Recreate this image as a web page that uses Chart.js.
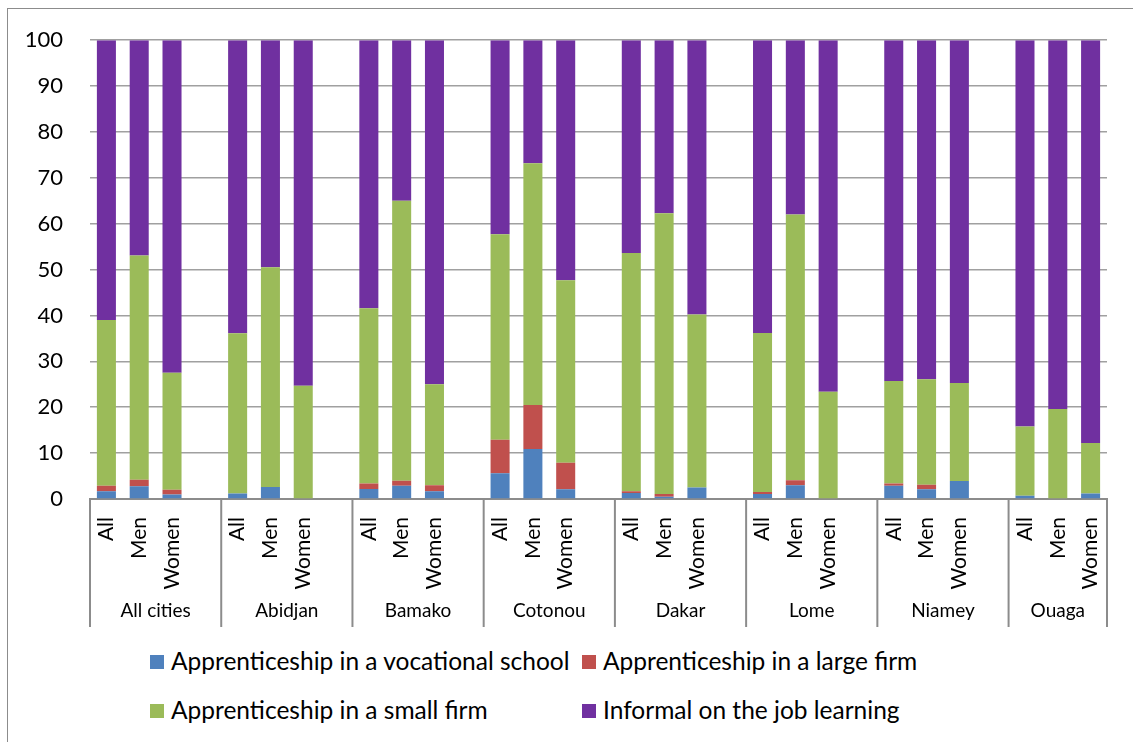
<!DOCTYPE html>
<html>
<head>
<meta charset="utf-8">
<script src="https://cdn.jsdelivr.net/npm/chart.js@4/dist/chart.umd.min.js"></script>
<style>
  html, body { margin: 0; padding: 0; background: #fff; }
  #wrap { position: relative; width: 1133px; height: 742px; overflow: hidden; font-family: Lato, sans-serif; }
  #frame { position: absolute; left: 7px; top: 8px; width: 1140px; height: 750px; border: 1px solid #8c8c8c; box-sizing: border-box; }
  #chart { position: absolute; left: 0; top: 0; }
  .leg { position: absolute; font-size: 24.5px; color: #000; white-space: nowrap; line-height: 1; }
  .leg i { display: inline-block; width: 14px; height: 14px; margin-right: 7px; vertical-align: 1px; }
</style>
</head>
<body>
<div id="wrap">
  <div id="frame"></div>
  <canvas id="chart" width="1133" height="640"></canvas>
  <div id="legend"></div>
</div>
<script>
// ── Datos ──────────────────────────────────────────────────────────────────
const cities = ['All cities', 'Abidjan', 'Bamako', 'Cotonou', 'Dakar', 'Lome', 'Niamey', 'Ouaga'];
const groups = ['All', 'Men', 'Women'];

// 3 barras por ciudad + un hueco entre ciudades (null)
const vocational = [
  1.7, 2.8, 1.0, null,
  1.2, 2.6, 0,   null,
  2.2, 2.9, 1.7, null,
  5.6, 10.9, 2.1, null,
  1.3, 0.5, 2.5, null,
  1.1, 3.0, 0,   null,
  2.9, 2.1, 3.9, null,
  0.7, 0,   1.2
];
const largeFirm = [
  1.2, 1.4, 1.0, null,
  0,   0,   0,   null,
  1.2, 1.1, 1.3, null,
  7.3, 9.6, 5.8, null,
  0.4, 0.6, 0,   null,
  0.4, 1.1, 0,   null,
  0.5, 1.0, 0,   null,
  0,   0,   0
];
const smallFirm = [
  36.1, 48.9, 25.5, null,
  34.9, 47.9, 24.7, null,
  38.2, 61.0, 22.0, null,
  44.8, 52.7, 39.8, null,
  51.9, 61.2, 37.7, null,
  34.7, 57.9, 23.4, null,
  22.3, 23.0, 21.4, null,
  15.1, 19.6, 11.0
];
const informal = [
  61.0, 46.9, 72.5, null,
  63.9, 49.5, 75.3, null,
  58.4, 35.0, 75.0, null,
  42.3, 26.8, 52.3, null,
  46.4, 37.7, 59.8, null,
  63.8, 38.0, 76.6, null,
  74.3, 73.9, 74.7, null,
  84.2, 80.4, 87.8
];

const seriesLabels = [
  'Apprenticeship in a vocational school',
  'Apprenticeship in a large firm',
  'Apprenticeship in a small firm',
  'Informal on the job learning'
];
const seriesColors = ['#4F81BD', '#C0504D', '#9BBB59', '#7030A0'];

// etiquetas del eje x: All / Men / Women + hueco
const xLabels = cities.flatMap((c, i) => i < cities.length - 1 ? [...groups, ''] : groups);

// ── Eje de ciudades (segundo nivel) ────────────────────────────────────────
const cityAxis = {
  id: 'cityAxis',
  afterDraw(chart) {
    const { ctx, chartArea } = chart;
    const x = chart.scales.x;
    const slot = x.width / xLabels.length;
    const top = chartArea.bottom;
    const bottom = top + 128;
    ctx.save();
    ctx.strokeStyle = '#8c8c8c';
    ctx.lineWidth = 2;
    cities.forEach((c, i) => {
      const left = x.getPixelForValue(i * 4) - slot / 2;
      const right = Math.min(left + slot * 4, x.right);
      ctx.beginPath();
      ctx.moveTo(left, top);
      ctx.lineTo(left, bottom);
      ctx.stroke();
      if (i === cities.length - 1) {
        ctx.beginPath();
        ctx.moveTo(right, top);
        ctx.lineTo(right, bottom);
        ctx.stroke();
      }
      ctx.fillStyle = '#000';
      ctx.font = '19px Lato';
      ctx.textAlign = 'center';
      ctx.textBaseline = 'middle';
      ctx.fillText(c, (left + right) / 2, 611);
    });
    ctx.restore();
  }
};

// ── Gráfico ────────────────────────────────────────────────────────────────
const data = [vocational, largeFirm, smallFirm, informal];

new Chart(document.getElementById('chart'), {
  type: 'bar',
  data: {
    labels: xLabels,
    datasets: data.map((d, i) => ({
      label: seriesLabels[i],
      data: d,
      backgroundColor: seriesColors[i],
      borderWidth: 0,
      barPercentage: 0.58,
      categoryPercentage: 1.0,
    })),
  },
  options: {
    responsive: false,
    animation: false,
    devicePixelRatio: 1,
    layout: { padding: { top: 37, right: 26, left: 0, bottom: 5 } },
    plugins: {
      legend: { display: false },
      tooltip: { enabled: false },
    },
    scales: {
      x: {
        stacked: true,
        grid: { display: false },
        border: { display: true, color: '#8c8c8c', width: 2 },
        ticks: {
          autoSkip: false, minRotation: 90, maxRotation: 90,
          padding: 10, color: '#000', font: { family: 'Lato', size: 21 },
        },
        afterFit: s => { s.height = 136; },
      },
      y: {
        stacked: true,
        min: 0, max: 100,
        grid: { color: '#a0a0a0', lineWidth: 1.5, drawTicks: false },
        border: { display: false },
        ticks: { stepSize: 10, padding: 27, color: '#000', font: { family: 'Lato', size: 22 } },
        afterFit: s => { s.width = 90; },
      },
    },
  },
  plugins: [cityAxis],
});

// ── Leyenda (dos columnas) ─────────────────────────────────────────────────
const legPos = [[150, 649], [582, 649], [150, 698], [582, 698]];
document.getElementById('legend').innerHTML = seriesLabels.map((l, i) =>
  `<div class="leg" style="left:${legPos[i][0]}px;top:${legPos[i][1]}px"><i style="background:${seriesColors[i]}"></i>${l}</div>`
).join('');
</script>
</body>
</html>
